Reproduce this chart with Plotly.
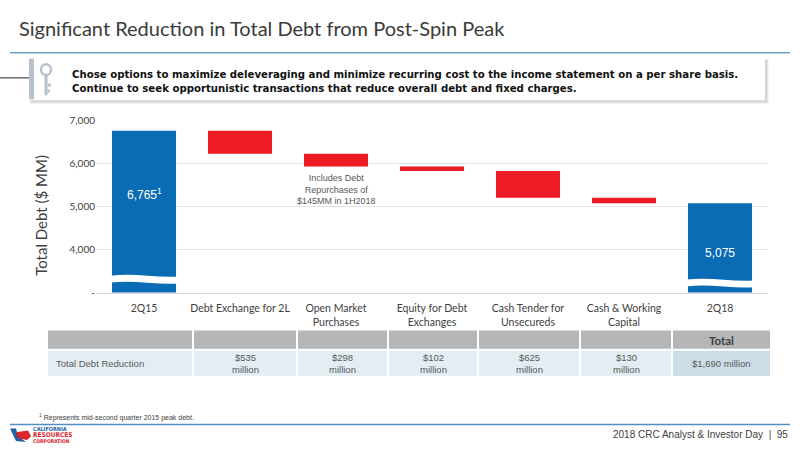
import plotly.graph_objects as go

# waterfall data ($MM)
categories = ["2Q15", "Debt Exchange for 2L", "Open Market<br>Purchases",
              "Equity for Debt<br>Exchanges", "Cash Tender for<br>Unsecureds",
              "Cash & Working<br>Capital", "2Q18"]
measures = ["absolute", "relative", "relative", "relative", "relative", "relative", "total"]
debt_values = [6765, -535, -298, -102, -625, -130, 0]

y_ticks = [3000, 4000, 5000, 6000, 7000]
y_ticktext = ["-", "4,000", "5,000", "6,000", "7,000"]

# table data
table_header = ["", "", "", "", "", "", "Total"]
row_label = "Total Debt Reduction"
reduction_mm = [535, 298, 102, 625, 130]
total_reduction_mm = 1690

BLUE = "#0a6cb5"
RED = "#ed1c24"
W, H = 800, 450
CONDENSED = "DejaVu Sans Condensed, Liberation Sans Narrow, Roboto Condensed, sans-serif"


def px(x):
    return x / W


def py(y):
    return 1 - y / H


fig = go.Figure()

fig.add_trace(go.Waterfall(
    x=categories,
    y=debt_values,
    measure=measures,
    width=0.667,
    decreasing=dict(marker=dict(color=RED)),
    increasing=dict(marker=dict(color=RED)),
    totals=dict(marker=dict(color=BLUE)),
    connector=dict(visible=False),
    hoverinfo="skip",
    showlegend=False,
))

P = dict(xref="paper", yref="paper")
shapes = []
annotations = []


def note(text, x, y, size, color="#404040", family="Liberation Sans", xanchor="left", **kw):
    return dict(text=text, x=px(x), y=py(y), **P, xanchor=xanchor, yanchor="middle",
                showarrow=False, font=dict(family=family, size=size, color=color), **kw)


# title rule
shapes.append(dict(type="line", **P, x0=px(10), x1=px(790),
                   y0=py(47), y1=py(47), line=dict(color="#6d9ecb", width=1.5)))

# banner with shadow
for off, op in [(4, 0.08), (3, 0.12), (2, 0.18)]:
    shapes.append(dict(type="rect", **P, x0=px(30), x1=px(765 + off),
                       y0=py(96 + off), y1=py(54), fillcolor="#808080", opacity=op, line=dict(width=0)))
shapes.append(dict(type="rect", **P, x0=px(30), x1=px(765),
                   y0=py(96), y1=py(53), fillcolor="white", line=dict(width=0)))
shapes.append(dict(type="rect", **P, x0=px(29), x1=px(34),
                   y0=py(95), y1=py(53), fillcolor="#b7c0cd", line=dict(width=0)))
shapes.append(dict(type="line", **P, x0=0, x1=px(29),
                   y0=py(73), y1=py(73), line=dict(color="#222222", width=1)))
# key icon
shapes.append(dict(type="circle", **P, x0=px(41), x1=px(51),
                   y0=py(70), y1=py(59), line=dict(color="#b7c0cd", width=2.5)))
shapes.append(dict(type="rect", **P, x0=px(44.5), x1=px(47.5),
                   y0=py(91), y1=py(70), fillcolor="#b7c0cd", line=dict(width=0)))
shapes.append(dict(type="rect", **P, x0=px(47.5), x1=px(51),
                   y0=py(82), y1=py(79), fillcolor="#b7c0cd", line=dict(width=0)))
shapes.append(dict(type="rect", **P, x0=px(47.5), x1=px(50),
                   y0=py(88), y1=py(85), fillcolor="#b7c0cd", line=dict(width=0)))

# axis break waves on the total bars
for i, (yt, yb) in [(0, (3390, 3230)), (6, (3300, 3140))]:
    x0, x1 = i - 0.35, i + 0.35
    w = x1 - x0
    path = ("M %f,%f C %f,%f %f,%f %f,%f L %f,%f C %f,%f %f,%f %f,%f Z" % (
        x0, yt, x0 + w / 3, yt + 70, x0 + 2 * w / 3, yt - 50, x1, yt - 20,
        x1, yb - 20, x0 + 2 * w / 3, yb - 50, x0 + w / 3, yb + 70, x0, yb))
    shapes.append(dict(type="path", xref="x", yref="y", path=path,
                       fillcolor="white", line=dict(width=0)))

# summary table: header row + one data row
col_edges = [47, 193, 297, 388, 478, 580, 672, 771]
cell_texts = [row_label] + ["$%d<br>million" % v for v in reduction_mm] + \
             ["$%s million" % format(total_reduction_mm, ",")]
for c in range(len(col_edges) - 1):
    xa, xb = col_edges[c] + 1, col_edges[c + 1] - 1
    shapes.append(dict(type="rect", **P, x0=px(xa), x1=px(xb), y0=py(352), y1=py(333),
                       fillcolor="#b4b6b8", line=dict(width=0)))
    shapes.append(dict(type="rect", **P, x0=px(xa), x1=px(xb), y0=py(380), y1=py(354),
                       fillcolor="#cddde7" if c == len(col_edges) - 2 else "#e3edf3",
                       line=dict(width=0)))
    if table_header[c]:
        annotations.append(note("<b>%s</b>" % table_header[c], (xa + xb) / 2, 343, 11.5,
                                family="Lato", xanchor="center"))
    if c == 0:
        annotations.append(note(cell_texts[c], xa + 6, 367, 9.5, color="#595959"))
    else:
        annotations.append(note(cell_texts[c], (xa + xb) / 2, 367, 9.5, color="#595959",
                                xanchor="center", align="center"))

# footer rule
shapes.append(dict(type="line", **P, x0=px(10), x1=px(790),
                   y0=py(430), y1=py(430), line=dict(color="#4f8fc6", width=1.5)))
# logo marks
shapes.append(dict(type="path", **P,
                   path="M %f,%f L %f,%f L %f,%f L %f,%f L %f,%f Z" % (
                       px(10), py(434), px(16), py(434), px(18), py(442), px(26), py(448), px(16), py(447)),
                   fillcolor="#1f5fa8", line=dict(width=0)))
shapes.append(dict(type="path", **P,
                   path="M %f,%f L %f,%f L %f,%f L %f,%f L %f,%f Z" % (
                       px(16), py(438), px(28), py(436), px(31), py(442), px(27), py(446), px(18), py(444)),
                   fillcolor="#d9262d", line=dict(width=0)))

annotations += [
    note("Significant Reduction in Total Debt from Post-Spin Peak", 17, 22, 20, family="Lato",
         color="#3a3a3a"),
    note("<b>Chose options to maximize deleveraging and minimize recurring cost to the income statement on a per share basis.</b>",
         70, 70, 11.3, color="#111111", family=CONDENSED),
    note("<b>Continue to seek opportunistic transactions that reduce overall debt and fixed charges.</b>",
         70, 84, 11.3, color="#111111", family=CONDENSED),
    note("Total Debt ($ MM)", 41, 215, 15, family="Lato", xanchor="center", textangle=-90),
    note("<sup>1</sup> Represents mid-second quarter 2015 peak debt.", 37, 423, 7),
    note("2018 CRC Analyst & Investor Day  |  95", 790, 440, 10, xanchor="right"),
    note("<b>CALIFORNIA</b>", 31, 435, 5.5, color="#1f5fa8", family=CONDENSED),
    note("<b>RESOURCES</b>", 31, 441, 6.5, color="#d9262d", family=CONDENSED),
    note("<b>CORPORATION</b>", 31, 446.5, 5, color="#d9262d", family=CONDENSED),
    dict(text="6,765<sup>1</sup>", x=categories[0], y=5300, xref="x", yref="y", showarrow=False,
         font=dict(family="Liberation Sans", size=12, color="white")),
    dict(text="5,075", x=categories[6], y=3930, xref="x", yref="y", showarrow=False,
         font=dict(family="Liberation Sans", size=12, color="white")),
    dict(text="Includes Debt<br>Repurchases of<br>$145MM in 1H2018", x=categories[2], y=5390,
         xref="x", yref="y", showarrow=False, align="center",
         font=dict(family="Liberation Sans", size=9, color="#595959")),
]

fig.update_layout(
    width=W, height=H,
    margin=dict(l=0, r=0, t=0, b=0),
    paper_bgcolor="white", plot_bgcolor="white",
    shapes=shapes, annotations=annotations,
    xaxis=dict(domain=[px(96), px(768)], tickfont=dict(family="Lato", size=10.5, color="#404040"),
               ticks="outside", ticklen=6, tickcolor="white", showgrid=False,
               showline=True, linecolor="#d9d9d9", linewidth=1, fixedrange=True),
    yaxis=dict(domain=[py(294), py(117)], range=[3000, 7000], tickvals=y_ticks, ticktext=y_ticktext,
               tickfont=dict(family="Lato", size=10, color="#404040"),
               gridcolor="#e3e3e3", gridwidth=1, zeroline=False, fixedrange=True),
)

fig.write_html("out.html", config={"displayModeBar": False},
               post_script="document.body.style.margin='0';document.body.style.overflow='hidden';")
